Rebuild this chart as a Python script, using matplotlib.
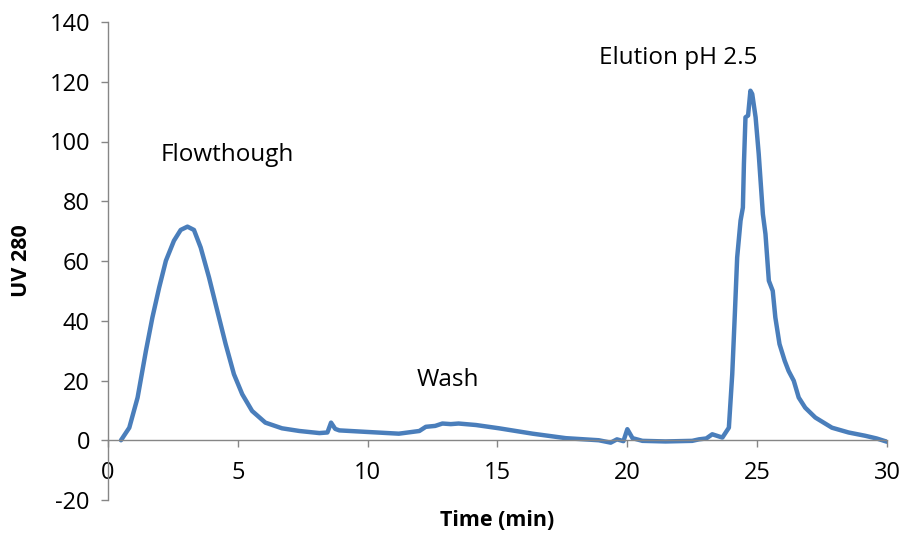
import matplotlib
matplotlib.use("Agg")
import matplotlib.pyplot as plt

time_min = [0.50, 0.82, 1.14, 1.46, 1.71, 1.97, 2.23, 2.54, 2.80, 3.06, 3.31, 3.57, 3.89,
            4.21, 4.53, 4.85, 5.17, 5.55, 6.06, 6.70, 7.37, 8.14, 8.45, 8.59, 8.75,
            8.91, 9.94, 11.2, 11.99, 12.24, 12.6, 12.88, 13.2, 13.5, 14.17, 15.06, 16.35,
            17.63, 18.9, 19.36, 19.6, 19.85, 20.0, 20.2, 20.58, 21.47, 22.5, 22.76, 23.04,
            23.27, 23.66, 23.91, 24.04, 24.14, 24.23, 24.36, 24.45, 24.49, 24.55, 24.65,
            24.74, 24.81, 24.94, 25.06, 25.22, 25.32, 25.45, 25.6, 25.7, 25.86, 26.06,
            26.21, 26.41, 26.6, 26.85, 27.24, 27.88, 28.52, 29.16, 29.6, 30.0]
uv280 = [0.0, 4.2, 14.3, 29.9, 41.1, 51.1, 60.1, 66.8, 70.4, 71.5, 70.4, 64.5, 54.5,
         43.3, 32.2, 22.1, 15.4, 9.8, 5.9, 4.0, 3.1, 2.4, 2.6, 5.9, 3.8,
         3.3, 2.8, 2.2, 3.1, 4.5, 4.8, 5.6, 5.4, 5.6, 5.1, 4.0, 2.2,
         0.7, 0.0, -0.8, 0.3, -0.3, 3.7, 0.7, -0.2, -0.4, -0.2, 0.3, 0.6,
         2.0, 0.9, 4.2, 22.1, 42.2, 61.2, 73.5, 77.9, 92.5, 108.1, 108.7,
         117.0, 115.9, 108.1, 95.8, 75.7, 69.0, 53.4, 50.0, 41.1, 32.2, 26.6,
         23.2, 19.9, 14.3, 10.9, 7.6, 4.2, 2.6, 1.5, 0.6, -0.5]

annotations = ["Flowthough", "Wash", "Elution pH 2.5"]
annot_x = [4.58, 13.1, 21.96]
annot_y = [95.5, 20.0, 128.0]

x_ticks = [0, 5, 10, 15, 20, 25, 30]
y_ticks = [-20, 0, 20, 40, 60, 80, 100, 120, 140]

plt.rcParams['font.family'] = ['Open Sans', 'DejaVu Sans']
plt.rcParams['axes.unicode_minus'] = False

fig = plt.figure(figsize=(9.04, 5.35), dpi=100)
ax = fig.add_axes([108/904, 1 - 500/535, (887 - 108)/904, (500 - 22)/535])

ax.plot(time_min, uv280, color='#4a7ebb', lw=3.2, solid_capstyle='round', solid_joinstyle='round')

ax.set_xlim(0, 30)
ax.set_ylim(-20, 140)
ax.set_xticks(x_ticks)
ax.set_yticks(y_ticks)

spine_col = '#868686'
for s in ['top', 'right']:
    ax.spines[s].set_visible(False)
ax.spines['bottom'].set_position(('data', 0))
for s in ['left', 'bottom']:
    ax.spines[s].set_color(spine_col)
    ax.spines[s].set_linewidth(1.0)

ax.tick_params(axis='x', direction='out', length=5, width=1, color=spine_col,
               labelsize=17, pad=10, labelcolor='black')
ax.tick_params(axis='y', direction='out', length=5, width=1, color=spine_col,
               labelsize=17, pad=8, labelcolor='black')

for t, xx, yy in zip(annotations, annot_x, annot_y):
    ax.text(xx, yy, t, ha='center', va='center', fontsize=17.5, color='black')

fig.text(22/904, 1 - 261/535, 'UV 280', rotation=90, ha='center', va='center',
         fontsize=15.5, fontweight='bold')
fig.text(497/904, 1 - 521/535, 'Time (min)', ha='center', va='center',
         fontsize=15.5, fontweight='bold')

fig.savefig('out.png', dpi=100)
